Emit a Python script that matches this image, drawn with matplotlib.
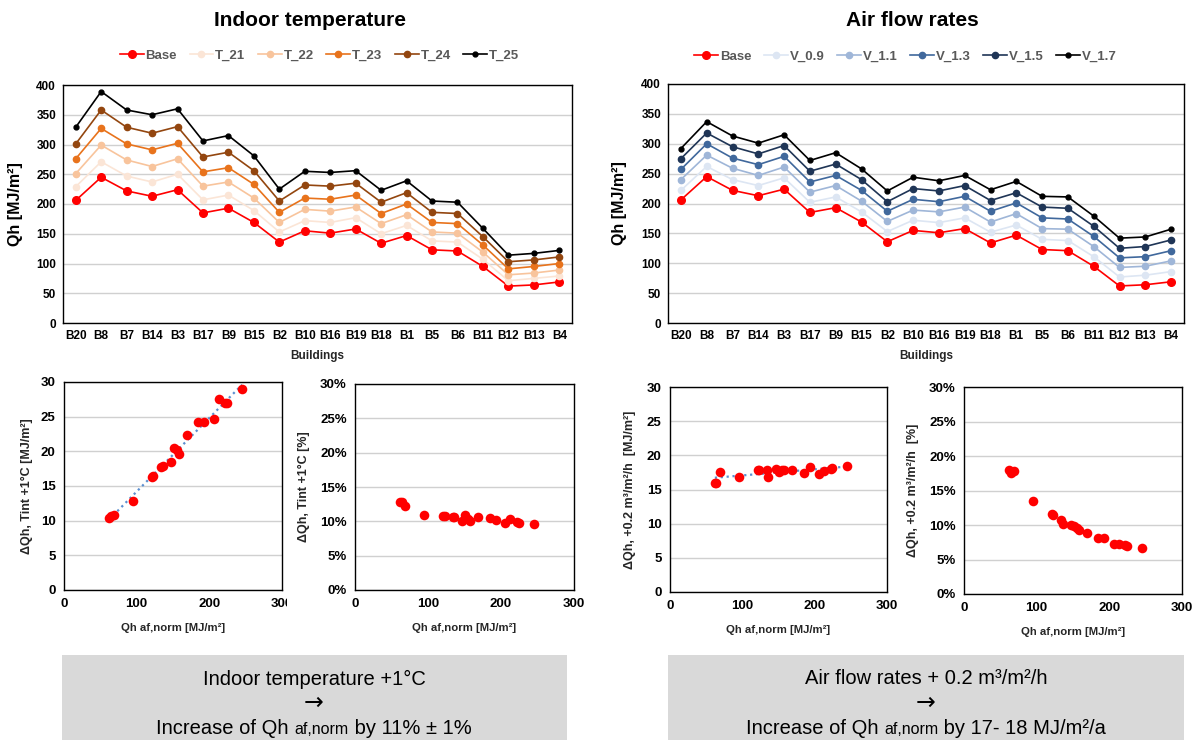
import numpy as np
import matplotlib
matplotlib.use('Agg')
import matplotlib.pyplot as plt
from matplotlib.ticker import PercentFormatter
from matplotlib.offsetbox import TextArea, HPacker, AnchoredOffsetbox
from matplotlib.transforms import Bbox, TransformedBbox

plt.rcParams['font.family'] = ['Liberation Sans', 'DejaVu Sans']

buildings = ['B20', 'B8', 'B7', 'B14', 'B3', 'B17', 'B9', 'B15', 'B2', 'B10',
             'B16', 'B19', 'B18', 'B1', 'B5', 'B6', 'B11', 'B12', 'B13', 'B4']

# heating demand Qh [MJ/m2] per building
base = [206, 245, 222, 213, 224, 185, 193, 169, 136, 155, 151, 158, 134, 147, 123, 121, 95, 62, 64, 69]

t21 = [229, 271, 247, 237, 250, 207, 215, 189, 153, 172, 169, 177, 150, 164, 138, 136, 107, 71, 75, 79]
t22 = [251, 299, 274, 263, 276, 230, 237, 210, 169, 191, 188, 195, 167, 182, 153, 151, 119, 81, 84, 89]
t23 = [276, 327, 301, 291, 302, 254, 261, 233, 186, 210, 208, 215, 184, 200, 169, 167, 131, 91, 95, 100]
t24 = [301, 358, 329, 319, 330, 279, 287, 256, 205, 232, 230, 235, 203, 219, 186, 184, 145, 103, 106, 111]
t25 = [329, 389, 358, 350, 360, 306, 315, 281, 225, 255, 253, 256, 223, 239, 205, 203, 159, 114, 117, 122]

v09 = [222, 262, 240, 230, 243, 202, 211, 186, 153, 172, 168, 176, 152, 164, 140, 138, 111, 77, 80, 86]
v11 = [240, 281, 259, 247, 261, 219, 230, 204, 170, 189, 186, 194, 169, 183, 158, 157, 128, 93, 95, 104]
v13 = [257, 300, 276, 265, 279, 236, 247, 222, 187, 207, 203, 212, 187, 201, 176, 174, 145, 109, 111, 121]
v15 = [275, 318, 295, 283, 297, 254, 266, 240, 203, 225, 221, 230, 205, 218, 194, 192, 162, 125, 128, 139]
v17 = [292, 337, 313, 301, 315, 272, 285, 258, 221, 244, 238, 247, 223, 237, 212, 211, 179, 142, 144, 157]

# sensitivities per building (same order)
dT_abs = [24.6, 29.0, 26.9, 27.5, 27.0, 24.2, 24.3, 22.4, 17.9, 20.2, 20.5, 19.6, 17.8, 18.4, 16.4, 16.3, 12.9, 10.4, 10.7, 10.8]
dT_pct = [9.7, 9.6, 9.9, 10.4, 9.8, 10.5, 10.2, 10.6, 10.6, 10.4, 10.9, 10.0, 10.7, 10.1, 10.8, 10.8, 10.9, 12.8, 12.8, 12.2]
dV_abs = [17.3, 18.4, 18.0, 17.7, 18.2, 17.4, 18.3, 17.8, 16.9, 17.8, 17.5, 17.8, 17.9, 18.0, 17.8, 17.8, 16.9, 15.9, 15.9, 17.5]
dV_pct = [7.25, 6.6, 7.05, 7.25, 7.0, 8.1, 8.1, 8.8, 10.2, 9.6, 9.8, 9.3, 10.7, 10.05, 11.45, 11.6, 13.5, 18.0, 17.5, 17.8]

temp_series = [('Base', base, '#ff0000', 5.5), ('T_21', t21, '#fbe5d6', 4.5),
               ('T_22', t22, '#f8c49c', 4.5), ('T_23', t23, '#e8731c', 4.5),
               ('T_24', t24, '#93460f', 4.5), ('T_25', t25, '#000000', 3.5)]
flow_series = [('Base', base, '#ff0000', 5.5), ('V_0.9', v09, '#dde6f3', 4.5),
               ('V_1.1', v11, '#9fb6d8', 4.5), ('V_1.3', v13, '#40689c', 4.5),
               ('V_1.5', v15, '#1f3556', 4.5), ('V_1.7', v17, '#000000', 3.5)]

W, H = 1199, 740
fig = plt.figure(figsize=(W / 100, H / 100), dpi=100)


def px_axes(l, t, r, b):
    return fig.add_axes([l / W, 1 - b / H, (r - l) / W, (b - t) / H])


def style_frame(ax):
    for s in ax.spines.values():
        s.set_color('#000000')
        s.set_linewidth(1.0)
    ax.tick_params(length=0)
    ax.grid(axis='y', color='#d0d0d0', linewidth=1.0)
    ax.set_axisbelow(True)


def line_chart(ax, series, leg_x, leg_y):
    x = np.arange(len(buildings))
    for name, vals, col, ms in series:
        ax.plot(x, vals, color=col, marker='o', markersize=ms, linewidth=1.2, label=name)
    ax.set_xlim(-0.5, len(buildings) - 0.5)
    ax.set_ylim(0, 400)
    ax.set_yticks(range(0, 401, 50))
    ax.set_xticks(x)
    ax.set_xticklabels(buildings)
    style_frame(ax)
    ax.tick_params(axis='both', labelsize=8.5, pad=5)
    for lbl in ax.get_xticklabels() + ax.get_yticklabels():
        lbl.set_fontweight('bold')
    ax.set_ylabel('Qh [MJ/m²]', fontsize=11.5, fontweight='bold')
    ax.yaxis.set_label_coords(-0.079, 0.5)
    ax.set_xlabel('Buildings', fontsize=8.5, fontweight='bold', color='#262626', labelpad=6)
    leg = ax.legend(loc='center', bbox_to_anchor=(leg_x, leg_y), ncol=6, frameon=False,
                    handlelength=1.8, handletextpad=0.15, columnspacing=0.95,
                    prop={'size': 9.5, 'weight': 'bold'})
    for t in leg.get_texts():
        t.set_color('#595959')


def scatter_chart(ax, yvals, ylabel, label_x, pct=False, trend=False):
    ax.scatter(base, yvals, s=48, color='#ff0000', zorder=3, linewidths=0)
    if trend:
        k, d = np.polyfit(base, yvals, 1)
        xs = np.array([min(base), max(base)])
        ax.plot(xs, k * xs + d, linestyle=':', color='#5b8fd0', linewidth=1.6, zorder=2)
    ax.set_xlim(0, 300)
    ax.set_ylim(0, 30)
    ax.set_xticks([0, 100, 200, 300])
    ax.set_yticks(range(0, 31, 5))
    if pct:
        ax.yaxis.set_major_formatter(PercentFormatter(xmax=100, decimals=0))
    style_frame(ax)
    ax.tick_params(axis='both', labelsize=9.5, pad=6)
    for lbl in ax.get_xticklabels() + ax.get_yticklabels():
        lbl.set_fontweight('bold')
    ax.set_ylabel(ylabel, fontsize=9, fontweight='bold', color='#262626')
    ax.yaxis.set_label_coords(label_x, 0.5)
    ax.set_xlabel('Qh af,norm [MJ/m²]', fontsize=8.2, fontweight='bold', color='#262626', labelpad=9)


# top line charts
ax1 = px_axes(63, 85, 572, 323)
line_chart(ax1, temp_series, 0.504, 1.123)
ax2 = px_axes(668, 84, 1184, 323)
line_chart(ax2, flow_series, 0.46, 1.115)

fig.text(310 / W, 1 - 21 / H, 'Indoor temperature', ha='center', va='center',
         fontsize=15, fontweight='bold')
fig.text(912 / W, 1 - 21 / H, 'Air flow rates', ha='center', va='center',
         fontsize=15, fontweight='bold')

# bottom scatter charts
s1 = px_axes(64, 382, 282, 590)
scatter_chart(s1, dT_abs, 'ΔQh, Tint +1°C [MJ/m²]', -0.142, trend=True)
s2 = px_axes(355, 384, 574, 590)
scatter_chart(s2, dT_pct, 'ΔQh, Tint +1°C [%]', -0.205, pct=True)
s3 = px_axes(670, 387, 887, 592)
scatter_chart(s3, dV_abs, 'ΔQh, +0.2 m³/m²/h  [MJ/m²]', -0.157, trend=True)
s4 = px_axes(964, 387, 1182, 594)
scatter_chart(s4, dV_pct, 'ΔQh, +0.2 m³/m²/h  [%]', -0.206, pct=True)

# the "300" of the first scatter is cut by the neighbouring chart
clip = TransformedBbox(Bbox([[0, 0], [287 / W, 1]]), fig.transFigure)
last = s1.get_xticklabels()[-1]
last.set_clip_box(clip)
last.set_clip_on(True)

# summary boxes
for l, r in [(62, 567), (668, 1184)]:
    fig.patches.append(plt.Rectangle((l / W, 0), (r - l) / W, (H - 655) / H,
                                     transform=fig.transFigure, facecolor='#d9d9d9',
                                     edgecolor='none', zorder=0))


def box_text(cx, line1, tail):
    fig.text(cx / W, 1 - 679 / H, line1, ha='center', va='center', fontsize=14.5)
    fig.text(cx / W, 1 - 703 / H, '→', ha='center', va='center', fontsize=17,
             family='DejaVu Sans')
    parts = [TextArea('Increase of Qh ', textprops=dict(fontsize=14.5)),
             TextArea('af,norm', textprops=dict(fontsize=11.5)),
             TextArea(' by ' + tail, textprops=dict(fontsize=14.5))]
    pack = HPacker(children=parts, align='baseline', pad=0, sep=0)
    anc = AnchoredOffsetbox(loc='center', child=pack, frameon=False, pad=0, borderpad=0,
                            bbox_to_anchor=(cx / W, 1 - 728 / H),
                            bbox_transform=fig.transFigure)
    fig.add_artist(anc)


box_text(314, 'Indoor temperature +1°C', '11% ± 1%')
box_text(926, 'Air flow rates + 0.2 m³/m²/h', '17- 18 MJ/m²/a')

fig.savefig('out.png', dpi=100)
